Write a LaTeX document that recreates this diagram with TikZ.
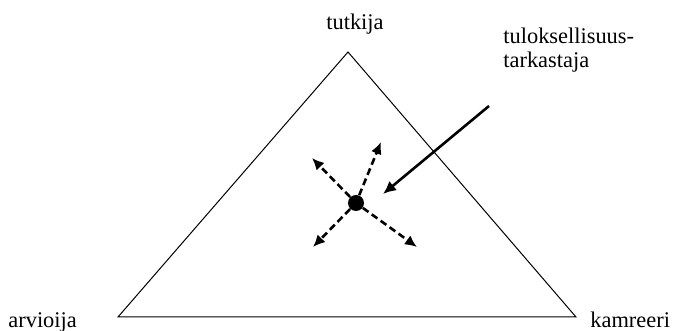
\documentclass[tikz,border=0pt]{standalone}
\usepackage{fontspec}
\setmainfont{Liberation Serif}
\usetikzlibrary{arrows.meta,positioning}

\begin{document}
\begin{tikzpicture}[
  x=0.5pt,y=-0.5pt,
  role/.style={font=\fontsize{11.2}{12}\selectfont,inner sep=0pt,align=left},
  side/.style={line width=0.5pt,line join=miter},
  hubdot/.style={circle,fill=black,inner sep=0pt,minimum size=8pt},
  spread/.style={-{Latex[length=6pt,width=5.5pt]},dashed,dash pattern=on 3.5pt off 2pt,line width=1.3pt},
  pointer/.style={-{Latex[length=6.5pt,width=6pt]},line width=1.3pt}
]
  \useasboundingbox (0,0) rectangle (676,331);

  % triangle corners
  \coordinate (top) at (348,52);
  \coordinate (left) at (118,317);
  \coordinate (right) at (576,317);
  \draw[side] (top) -- (left) -- (right) -- cycle;

  % roles at the corners
  \node[role,anchor=base] (tutkija) at (355,30) {tutkija};
  \node[role,anchor=base west] (arvioija) at (8,328) {arvioija};
  \node[role,anchor=base west] (kamreeri) at (590,328) {kamreeri};
  \node[role,anchor=base west] (tarkastaja) at (503,68) {tuloksellisuus-\\tarkastaja};

  % centre and its arrows
  \node[hubdot] (hub) at (356,203) {};
  \coordinate (ul) at (312,158);
  \coordinate (ur) at (381,142);
  \coordinate (ll) at (313,247);
  \coordinate (lr) at (417,247);
  \draw[spread] (hub) -- (ul);
  \draw[spread] (hub) -- (ur);
  \draw[spread] (hub) -- (ll);
  \draw[spread] (hub) -- (lr);

  \coordinate (from) at (489,106);
  \coordinate (to) at (383,194);
  \draw[pointer] (from) -- (to);
\end{tikzpicture}
\end{document}
